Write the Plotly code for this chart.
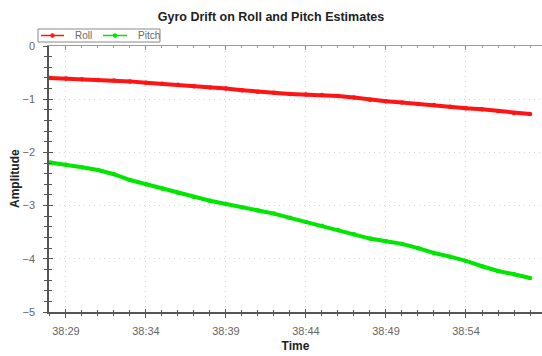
import plotly.graph_objects as go

# Sample times (seconds past 00:38) and the two attitude estimates
seconds = [28, 29, 30, 31, 32, 33, 34, 35, 36, 37, 38, 39, 40, 41, 42, 43,
           44, 45, 46, 47, 48, 49, 50, 51, 52, 53, 54, 55, 56, 57, 58]
roll = [-0.60, -0.61, -0.625, -0.64, -0.65, -0.665, -0.69, -0.71, -0.73, -0.755,
        -0.78, -0.80, -0.83, -0.86, -0.88, -0.90, -0.91, -0.92, -0.94, -0.97,
        -1.01, -1.04, -1.06, -1.09, -1.11, -1.14, -1.17, -1.19, -1.22, -1.26,
        -1.28]
pitch = [-2.19, -2.23, -2.28, -2.33, -2.41, -2.52, -2.60, -2.68, -2.76, -2.84,
         -2.91, -2.97, -3.03, -3.09, -3.15, -3.23, -3.31, -3.38, -3.46, -3.54,
         -3.62, -3.67, -3.72, -3.80, -3.89, -3.96, -4.04, -4.14, -4.23, -4.29,
         -4.36]
series_names = ["Roll", "Pitch"]
series_colors = ["#ff1414", "#00e600"]

times = [f"2000-01-01 00:38:{s:02d}" for s in seconds]

FONT = "Liberation Sans, Arial, sans-serif"
AXIS = "#555555"
GRID = "#d4d4d4"
GRID_DASH = "1px,4px"

# Figure geometry in pixels
W, H = 542, 356
ML, MR, MT, MB = 49, 0, 46, 44
PW, PH = W - ML - MR, H - MT - MB


def px(x):
    return (x - ML) / PW


def py(y):
    return (H - MB - y) / PH


fig = go.Figure()
for name, vals, col in zip(series_names, [roll, pitch], series_colors):
    fig.add_trace(go.Scatter(x=times, y=vals, name=name, mode="lines+markers",
                             line=dict(color=col, width=4),
                             marker=dict(color=col, size=4.5),
                             showlegend=False))

x_range = ["2000-01-01 00:38:27.94", "2000-01-01 00:38:58.75"]
tick0 = "2000-01-01 00:38:29"
common_x = dict(type="date", range=x_range, tick0=tick0, dtick=5000)

# Compact boxed legend above the top-left corner of the plot
shapes = [dict(type="rect", xref="paper", yref="paper",
               x0=px(38), x1=px(160), y0=py(42), y1=py(29),
               line=dict(color="#8a8a8a", width=1), fillcolor="white", layer="above")]
annotations = []
legend_slots = [(41, 64, 73), (103, 127, 136)]
for (lx0, lx1, tx), name, col in zip(legend_slots, series_names, series_colors):
    shapes.append(dict(type="line", xref="paper", yref="paper",
                       x0=px(lx0), x1=px(lx1), y0=py(35.5), y1=py(35.5),
                       line=dict(color=col, width=1.5), layer="above"))
    cx = (lx0 + lx1) / 2
    shapes.append(dict(type="circle", xref="paper", yref="paper",
                       x0=px(cx - 1.8), x1=px(cx + 1.8), y0=py(37.3), y1=py(33.7),
                       line=dict(color=col, width=1), fillcolor=col, layer="above"))
    annotations.append(dict(text=name, xref="paper", yref="paper",
                            x=px(tx), y=py(35.5), xanchor="left", yanchor="middle",
                            showarrow=False,
                            font=dict(size=10, color="#666666", family=FONT)))

# Vertical axis title
annotations.append(dict(text="<b>Amplitude</b>", xref="paper", yref="paper",
                        x=px(15), y=0.5, xanchor="center", yanchor="middle",
                        textangle=-90, showarrow=False,
                        font=dict(size=12, color="#222222", family=FONT)))

fig.update_layout(
    width=W, height=H,
    margin=dict(l=ML, r=MR, t=MT, b=MB),
    paper_bgcolor="white", plot_bgcolor="white",
    font=dict(family=FONT, color="#444444"),
    title=dict(text="<b>Gyro Drift on Roll and Pitch Estimates</b>",
               x=0.5, xanchor="center", xref="container", y=0.952, yanchor="middle",
               font=dict(size=12.5, color="#222222")),
    showlegend=False,
    shapes=shapes,
    annotations=annotations,
    xaxis=dict(**common_x, tickformat="%M:%S",
               showline=True, linecolor=AXIS, linewidth=1.5,
               ticks="outside", ticklen=4, tickcolor=AXIS, tickwidth=1,
               tickfont=dict(size=11, color="#666666"), ticklabelstandoff=4,
               showgrid=True, gridcolor=GRID, griddash=GRID_DASH, gridwidth=1,
               minor=dict(dtick=1000, tick0=tick0, ticks="outside", ticklen=2,
                          tickcolor=AXIS, showgrid=False),
               zeroline=False,
               title=dict(text="<b>Time</b>", font=dict(size=12, color="#222222"),
                          standoff=6)),
    xaxis2=dict(**common_x, overlaying="x", anchor="y", side="bottom",
                showline=False, showticklabels=False, showgrid=False,
                ticks="inside", ticklen=3, tickcolor=AXIS, tickwidth=1,
                minor=dict(dtick=1000, tick0=tick0, ticks="inside", ticklen=2,
                           tickcolor=AXIS, showgrid=False)),
    xaxis3=dict(**common_x, overlaying="x", anchor="y", side="top",
                showline=True, linecolor="#9a9a9a", linewidth=1.2,
                showticklabels=False, showgrid=False,
                ticks="inside", ticklen=4, tickcolor="#888888", tickwidth=1,
                minor=dict(dtick=1000, tick0=tick0, ticks="inside", ticklen=2,
                           tickcolor="#999999", showgrid=False)),
    yaxis=dict(range=[-5, 0], tick0=0, dtick=1,
               showline=True, linecolor=AXIS, linewidth=1.5,
               ticks="outside", ticklen=4, tickcolor=AXIS, tickwidth=1,
               tickfont=dict(size=11, color="#666666"), ticklabelstandoff=6,
               showgrid=True, gridcolor=GRID, griddash=GRID_DASH, gridwidth=1,
               minor=dict(dtick=0.2, ticks="outside", ticklen=3, tickcolor=AXIS,
                          showgrid=False),
               zeroline=False),
    yaxis2=dict(range=[-5, 0], tick0=0, dtick=1, overlaying="y", anchor="x",
                side="left", showline=False, showticklabels=False, showgrid=False,
                ticks="inside", ticklen=4, tickcolor=AXIS, tickwidth=1,
                zeroline=False,
                minor=dict(dtick=0.2, ticks="inside", ticklen=3, tickcolor=AXIS,
                           showgrid=False)),
)

# Tick-only overlay axes carry empty traces so that they are drawn
fig.add_trace(go.Scatter(x=[], y=[], xaxis="x2", yaxis="y2", showlegend=False,
                         hoverinfo="skip"))
fig.add_trace(go.Scatter(x=[], y=[], xaxis="x3", yaxis="y", showlegend=False,
                         hoverinfo="skip"))

fig.write_html("out.html")
